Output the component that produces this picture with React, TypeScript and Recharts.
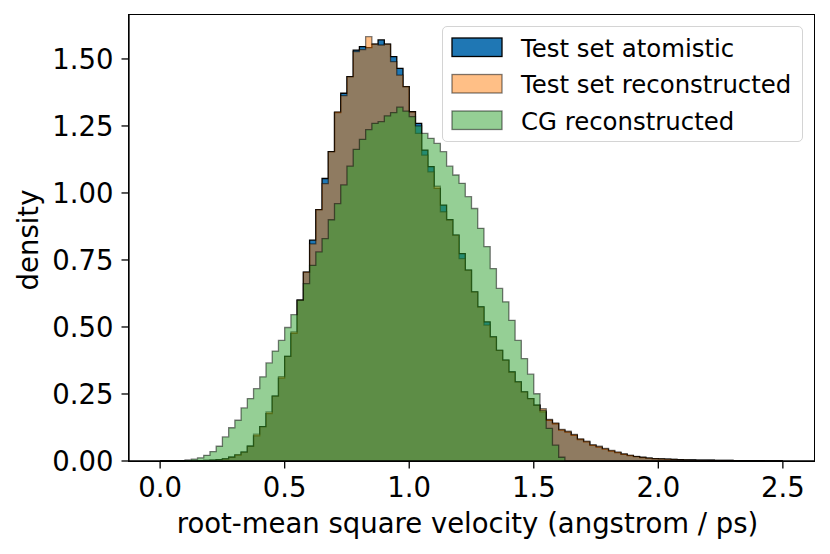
import React from "react";
import { Area, ComposedChart, XAxis, YAxis } from "recharts";

// histogram densities, one value per bin of width 0.025 starting at 0
const atomistic = [
  0, 0, 0, 0, 0, 0, 0.001, 0.002, 0.003, 0.005,
  0.008, 0.014, 0.022, 0.033, 0.055, 0.094, 0.128, 0.177, 0.242, 0.309,
  0.39, 0.476, 0.6, 0.705, 0.824, 0.938, 1.054, 1.154, 1.3, 1.372,
  1.434, 1.533, 1.546, 1.542, 1.555, 1.571, 1.555, 1.509, 1.465, 1.397,
  1.303, 1.26, 1.16, 1.098, 1.017, 0.955, 0.9, 0.843, 0.774, 0.712,
  0.631, 0.575, 0.519, 0.463, 0.413, 0.376, 0.332, 0.295, 0.258, 0.233,
  0.208, 0.183, 0.152, 0.139, 0.115, 0.108, 0.096, 0.08, 0.071, 0.058,
  0.052, 0.044, 0.037, 0.031, 0.025, 0.02, 0.016, 0.013, 0.011, 0.009,
  0.008, 0.007, 0.006, 0.005, 0.0045, 0.004, 0.0035, 0.003, 0.0028, 0.0025,
  0.002, 0.0018, 0.0016, 0.0014, 0.0012, 0.001, 0.001, 0.0008, 0.0006, 0.0005,
];

const reconstructed = [
  0, 0, 0, 0, 0, 0, 0.001, 0.002, 0.003, 0.005,
  0.008, 0.014, 0.024, 0.033, 0.055, 0.1, 0.128, 0.183, 0.242, 0.315,
  0.39, 0.482, 0.6, 0.705, 0.81, 0.938, 1.035, 1.154, 1.303, 1.363,
  1.434, 1.527, 1.535, 1.583, 1.555, 1.552, 1.555, 1.49, 1.44, 1.397,
  1.303, 1.222, 1.141, 1.079, 1.025, 0.93, 0.9, 0.843, 0.755, 0.712,
  0.631, 0.575, 0.507, 0.463, 0.413, 0.376, 0.332, 0.295, 0.258, 0.233,
  0.208, 0.195, 0.155, 0.142, 0.118, 0.111, 0.099, 0.083, 0.074, 0.061,
  0.055, 0.047, 0.04, 0.034, 0.027, 0.022, 0.017, 0.014, 0.011, 0.009,
  0.008, 0.007, 0.006, 0.005, 0.0045, 0.004, 0.0035, 0.003, 0.0028, 0.0025,
  0.002, 0.0018, 0.0016, 0.0014, 0.0012, 0.001, 0.001, 0.0008, 0.0006, 0.0005,
];

const cgReconstructed = [
  0, 0, 0, 0.001, 0.004, 0.007, 0.012, 0.021, 0.035, 0.055,
  0.09, 0.124, 0.152, 0.198, 0.233, 0.27, 0.314, 0.366, 0.41, 0.45,
  0.498, 0.546, 0.6, 0.662, 0.73, 0.78, 0.83, 0.9, 0.96, 1.03,
  1.1, 1.163, 1.2, 1.236, 1.26, 1.266, 1.288, 1.3, 1.32, 1.305,
  1.285, 1.25, 1.222, 1.204, 1.185, 1.154, 1.1, 1.067, 1.036, 0.986,
  0.942, 0.868, 0.8, 0.718, 0.644, 0.594, 0.525, 0.45, 0.382, 0.324,
  0.251, 0.189, 0.122, 0.059, 0.014, 0, 0, 0, 0, 0,
  0, 0, 0, 0, 0, 0, 0, 0, 0, 0,
  0, 0, 0, 0, 0, 0, 0, 0, 0, 0,
  0, 0, 0, 0, 0, 0, 0, 0, 0, 0,
];

const binWidth = 0.025;
const binEdges = Array.from({ length: 101 }, (_, i) => Number((i * binWidth).toFixed(3)));

const xTicks = [0, 0.5, 1, 1.5, 2, 2.5];
const yTicks = [0, 0.25, 0.5, 0.75, 1, 1.25, 1.5];

const legendItems = [
  { label: "Test set atomistic", fill: "#1f77b4", fillOpacity: 1, strokeOpacity: 1 },
  { label: "Test set reconstructed", fill: "#ff7f0e", fillOpacity: 0.5, strokeOpacity: 0.5 },
  { label: "CG reconstructed", fill: "#2ca02c", fillOpacity: 0.5, strokeOpacity: 0.5 },
];

// stepAfter needs a closing point at the last edge
const rows = binEdges.map((x, i) => {
  const k = Math.min(i, atomistic.length - 1);
  return {
    x,
    atomistic: atomistic[k],
    reconstructed: reconstructed[k],
    cg: cgReconstructed[k],
  };
});

const W = 830;
const H = 554;
const PLOT_LEFT = 129;
const PLOT_RIGHT = 814;
const PLOT_TOP = 15;
const PLOT_BOTTOM = 461;
const FONT = "'DejaVu Sans', sans-serif";
const FS = 27.5;

function HistLegend() {
  return (
    <div
      style={{
        position: "absolute",
        left: 442,
        top: 26,
        width: 361,
        height: 116,
        boxSizing: "border-box",
        border: "1.3px solid #d4d4d4",
        borderRadius: 5,
        background: "rgba(255,255,255,0.8)",
      }}
    >
      <svg width={359} height={114} style={{ position: "absolute", left: 0, top: 0 }}>
        {legendItems.map((item, i) => (
          <g key={item.label} transform={`translate(0, ${i * 36.5})`}>
            <rect
              x={9}
              y={11}
              width={50}
              height={18.5}
              fill={item.fill}
              fillOpacity={item.fillOpacity}
              stroke="#000"
              strokeOpacity={item.strokeOpacity}
              strokeWidth={1.3}
            />
            <text x={78} y={29.5} fontSize={24.4} fontFamily={FONT} fill="#000">
              {item.label}
            </text>
          </g>
        ))}
      </svg>
    </div>
  );
}

export default function App() {
  const midY = (PLOT_TOP + PLOT_BOTTOM) / 2;
  return (
    <div style={{ position: "absolute", left: 0, top: 0, width: W, height: H, background: "#fff" }}>
      <ComposedChart
        width={W}
        height={H}
        data={rows}
        margin={{ top: PLOT_TOP, right: W - PLOT_RIGHT, left: 0, bottom: 0 }}
      >
        <XAxis
          dataKey="x"
          type="number"
          domain={[-0.125, 2.625]}
          ticks={xTicks}
          tickFormatter={(v: number) => v.toFixed(1)}
          allowDataOverflow
          height={H - PLOT_BOTTOM}
          tick={{ fontSize: FS, fill: "#000", fontFamily: FONT }}
          tickSize={7.5}
          tickMargin={9}
          tickLine={{ stroke: "#000", strokeWidth: 1.3 }}
          axisLine={{ stroke: "#000", strokeWidth: 1.3 }}
          label={() => (
            <text
              x={(PLOT_LEFT + PLOT_RIGHT) / 2 - 4}
              y={533}
              textAnchor="middle"
              fontSize={FS}
              fontFamily={FONT}
              fill="#000"
            >
              root-mean square velocity (angstrom / ps)
            </text>
          )}
        />
        <YAxis
          type="number"
          domain={[0, 1.664]}
          ticks={yTicks}
          tickFormatter={(v: number) => v.toFixed(2)}
          allowDataOverflow
          width={PLOT_LEFT}
          tick={{ fontSize: FS, fill: "#000", fontFamily: FONT }}
          tickSize={7.5}
          tickMargin={8}
          tickLine={{ stroke: "#000", strokeWidth: 1.3 }}
          axisLine={{ stroke: "#000", strokeWidth: 1.3 }}
          label={() => (
            <text
              x={38}
              y={midY + 2}
              transform={`rotate(-90 38 ${midY + 2})`}
              textAnchor="middle"
              fontSize={FS}
              fontFamily={FONT}
              fill="#000"
            >
              density
            </text>
          )}
        />
        <Area
          type="stepAfter"
          dataKey="atomistic"
          name="Test set atomistic"
          fill="#1f77b4"
          fillOpacity={1}
          stroke="#000"
          strokeWidth={1.3}
          dot={false}
          activeDot={false}
          isAnimationActive={false}
        />
        <Area
          type="stepAfter"
          dataKey="reconstructed"
          name="Test set reconstructed"
          fill="#ff7f0e"
          fillOpacity={0.5}
          stroke="#000"
          strokeOpacity={0.5}
          strokeWidth={1.3}
          dot={false}
          activeDot={false}
          isAnimationActive={false}
        />
        <Area
          type="stepAfter"
          dataKey="cg"
          name="CG reconstructed"
          fill="#2ca02c"
          fillOpacity={0.5}
          stroke="#000"
          strokeOpacity={0.5}
          strokeWidth={1.3}
          dot={false}
          activeDot={false}
          isAnimationActive={false}
        />
      </ComposedChart>
      <div
        style={{
          position: "absolute",
          left: PLOT_LEFT - 0.65,
          top: PLOT_TOP - 0.65,
          width: PLOT_RIGHT - PLOT_LEFT + 1.3,
          height: PLOT_BOTTOM - PLOT_TOP + 1.3,
          boxSizing: "border-box",
          border: "1.3px solid #000",
          pointerEvents: "none",
        }}
      />
      <HistLegend />
    </div>
  );
}
